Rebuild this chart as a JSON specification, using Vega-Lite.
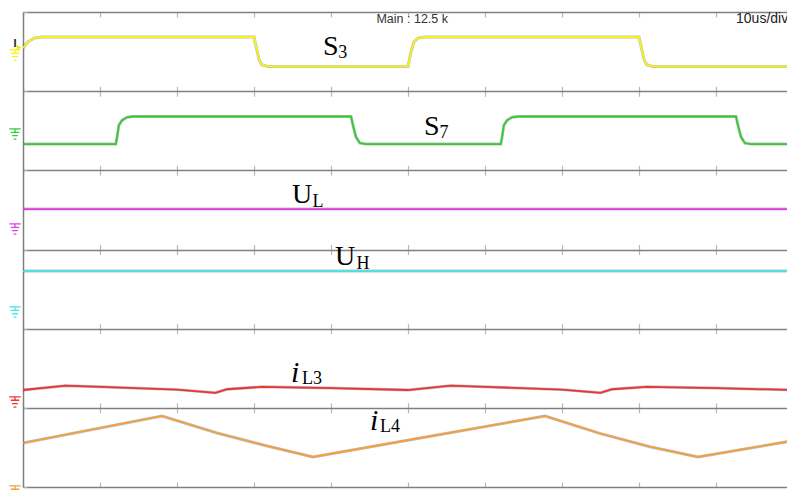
{
  "$schema": "https://vega.github.io/schema/vega-lite/v6.json",
  "width": 764,
  "height": 475,
  "autosize": {"type": "none"},
  "padding": {"left": 23, "top": 12, "right": 0, "bottom": 3},
  "background": "white",
  "config": {"view": {"stroke": null}},
  "datasets": {
    "signals": [
      {"ch": "S3", "t": 0, "v": 5.545}, {"ch": "S3", "t": 0.6, "v": 5.62}, {"ch": "S3", "t": 1.5, "v": 5.672}, {"ch": "S3", "t": 2.5, "v": 5.684},
      {"ch": "S3", "t": 30.0, "v": 5.684}, {"ch": "S3", "t": 30.35, "v": 5.53}, {"ch": "S3", "t": 30.65, "v": 5.4}, {"ch": "S3", "t": 31.0, "v": 5.335}, {"ch": "S3", "t": 31.8, "v": 5.312},
      {"ch": "S3", "t": 50.0, "v": 5.312}, {"ch": "S3", "t": 50.35, "v": 5.48}, {"ch": "S3", "t": 50.75, "v": 5.62}, {"ch": "S3", "t": 51.3, "v": 5.67}, {"ch": "S3", "t": 52.2, "v": 5.684},
      {"ch": "S3", "t": 80.0, "v": 5.684}, {"ch": "S3", "t": 80.35, "v": 5.53}, {"ch": "S3", "t": 80.65, "v": 5.4}, {"ch": "S3", "t": 81.0, "v": 5.335}, {"ch": "S3", "t": 81.8, "v": 5.312},
      {"ch": "S3", "t": 100, "v": 5.312},
      {"ch": "S7", "t": 0, "v": 4.332}, {"ch": "S7", "t": 12.05, "v": 4.332}, {"ch": "S7", "t": 12.2, "v": 4.41}, {"ch": "S7", "t": 12.45, "v": 4.57}, {"ch": "S7", "t": 12.85, "v": 4.63}, {"ch": "S7", "t": 13.5, "v": 4.67}, {"ch": "S7", "t": 14.3, "v": 4.68},
      {"ch": "S7", "t": 42.6, "v": 4.68}, {"ch": "S7", "t": 42.85, "v": 4.57}, {"ch": "S7", "t": 43.25, "v": 4.42}, {"ch": "S7", "t": 43.75, "v": 4.345}, {"ch": "S7", "t": 44.5, "v": 4.332},
      {"ch": "S7", "t": 62.05, "v": 4.332}, {"ch": "S7", "t": 62.2, "v": 4.41}, {"ch": "S7", "t": 62.45, "v": 4.57}, {"ch": "S7", "t": 62.85, "v": 4.63}, {"ch": "S7", "t": 63.5, "v": 4.67}, {"ch": "S7", "t": 64.3, "v": 4.68},
      {"ch": "S7", "t": 92.6, "v": 4.68}, {"ch": "S7", "t": 92.85, "v": 4.57}, {"ch": "S7", "t": 93.25, "v": 4.42}, {"ch": "S7", "t": 93.75, "v": 4.345}, {"ch": "S7", "t": 94.5, "v": 4.332}, {"ch": "S7", "t": 100, "v": 4.332},
      {"ch": "UL", "t": 0, "v": 3.511}, {"ch": "UL", "t": 100, "v": 3.511},
      {"ch": "UH", "t": 0, "v": 2.728}, {"ch": "UH", "t": 100, "v": 2.728},
      {"ch": "iL3", "t": 0, "v": 1.225}, {"ch": "iL3", "t": 5.5, "v": 1.28}, {"ch": "iL3", "t": 10, "v": 1.265}, {"ch": "iL3", "t": 20, "v": 1.23}, {"ch": "iL3", "t": 25, "v": 1.19}, {"ch": "iL3", "t": 26.5, "v": 1.235}, {"ch": "iL3", "t": 31, "v": 1.265}, {"ch": "iL3", "t": 40, "v": 1.25},
      {"ch": "iL3", "t": 50, "v": 1.225}, {"ch": "iL3", "t": 55.5, "v": 1.28}, {"ch": "iL3", "t": 60, "v": 1.265}, {"ch": "iL3", "t": 70, "v": 1.23}, {"ch": "iL3", "t": 75, "v": 1.19}, {"ch": "iL3", "t": 76.5, "v": 1.235}, {"ch": "iL3", "t": 81, "v": 1.265}, {"ch": "iL3", "t": 90, "v": 1.25}, {"ch": "iL3", "t": 100, "v": 1.225},
      {"ch": "iL4", "t": 0, "v": 0.556}, {"ch": "iL4", "t": 18.05, "v": 0.897}, {"ch": "iL4", "t": 25.2, "v": 0.682}, {"ch": "iL4", "t": 31.7, "v": 0.518}, {"ch": "iL4", "t": 37.66, "v": 0.379}, {"ch": "iL4", "t": 52.7, "v": 0.638},
      {"ch": "iL4", "t": 67.8, "v": 0.897}, {"ch": "iL4", "t": 74.9, "v": 0.678}, {"ch": "iL4", "t": 81.4, "v": 0.509}, {"ch": "iL4", "t": 87.66, "v": 0.379}, {"ch": "iL4", "t": 100, "v": 0.585}
    ],
    "grounds": [
      {"ch": "S3", "t": -1.04, "v": 5.457},
      {"ch": "S7", "t": -1.04, "v": 4.459},
      {"ch": "UL", "t": -1.04, "v": 3.259},
      {"ch": "UH", "t": -1.04, "v": 2.21},
      {"ch": "iL3", "t": -1.04, "v": 1.074},
      {"ch": "iL4", "t": -1.04, "v": -0.05}
    ],
    "mainLabels": [
      {"text": "S", "t": 38.96, "v": 5.457},
      {"text": "S", "t": 52.08, "v": 4.446},
      {"text": "U", "t": 34.94, "v": 3.587},
      {"text": "U", "t": 40.52, "v": 2.804}
    ],
    "italicLabels": [
      {"text": "i", "t": 34.8, "v": 1.326},
      {"text": "i", "t": 45.05, "v": 0.72}
    ],
    "subLabels": [
      {"text": "3", "t": 40.95, "v": 5.415},
      {"text": "7", "t": 54.08, "v": 4.404},
      {"text": "L", "t": 37.6, "v": 3.533},
      {"text": "H", "t": 43.3, "v": 2.75},
      {"text": "L3", "t": 36.23, "v": 1.297},
      {"text": "L4", "t": 46.36, "v": 0.691}
    ],
    "header": [
      {"text": "Main : 12.5 k", "t": 45.9, "v": 5.86}
    ],
    "header2": [
      {"text": "10us/div", "t": 92.6, "v": 5.86}
    ]
  },
  "layer": [
    {
      "data": {"name": "signals"},
      "mark": {"type": "line", "strokeWidth": 3, "color": "#000000", "opacity": 0.25, "clip": true},
      "encoding": {
        "x": {
          "field": "t", "type": "quantitative",
          "scale": {"domain": [0, 99.22], "nice": false, "zero": false},
          "axis": {
            "values": [0, 10, 20, 30, 40, 50, 60, 70, 80, 90],
            "labels": false, "title": null, "domain": false, "ticks": false,
            "grid": true, "gridColor": "#b8b8b8", "gridWidth": 1.2,
            "gridDash": [10, 69.167], "gridDashOffset": 5
          }
        },
        "y": {
          "field": "v", "type": "quantitative",
          "scale": {"domain": [0, 6], "nice": false, "zero": false},
          "axis": {
            "values": [0,0.125,0.25,0.375,0.5,0.625,0.75,0.875,1,1.125,1.25,1.375,1.5,1.625,1.75,1.875,2,2.125,2.25,2.375,2.5,2.625,2.75,2.875,3,3.125,3.25,3.375,3.5,3.625,3.75,3.875,4,4.125,4.25,4.375,4.5,4.625,4.75,4.875,5,5.125,5.25,5.375,5.5,5.625,5.75,5.875,6],
            "labels": false, "title": null,
            "domain": true, "domainColor": "#808080", "domainWidth": 1.5,
            "ticks": true, "tickSize": -4, "tickColor": "#b0b0b0",
            "grid": true, "gridColor": "#808080", "gridWidth": 1.3,
            "gridOpacity": {"condition": {"test": "datum.value % 1 === 0", "value": 1}, "value": 0}
          }
        },
        "detail": {"field": "ch"}
      }
    },
    {
      "data": {"name": "signals"},
      "mark": {"type": "line", "strokeWidth": 1.8, "clip": true},
      "encoding": {
        "x": {"field": "t", "type": "quantitative"},
        "y": {"field": "v", "type": "quantitative"},
        "color": {
          "field": "ch", "type": "nominal", "legend": null,
          "scale": {"domain": ["S3", "S7", "UL", "UH", "iL3", "iL4"], "range": ["#f5f510", "#33cc33", "#e040e0", "#44e4e4", "#ee3333", "#f4a040"]}
        }
      }
    },
    {
      "data": {"name": "grounds"},
      "mark": {"type": "point", "shape": "M-1,-0.9H1M0,-0.9V-0.3M-0.75,-0.3H0.75M-0.5,0.3H0.5M-0.25,0.9H0.25", "filled": false, "size": 130, "strokeWidth": 1.3, "opacity": 1},
      "encoding": {
        "x": {"field": "t", "type": "quantitative"},
        "y": {"field": "v", "type": "quantitative"},
        "color": {"field": "ch", "type": "nominal", "legend": null}
      }
    },
    {
      "data": {"values": [{"text": "I", "t": -1.04, "v": 5.596}]},
      "mark": {"type": "text", "font": "Liberation Sans", "fontSize": 11, "fontWeight": "bold", "color": "#222222", "align": "center", "baseline": "middle"},
      "encoding": {
        "x": {"field": "t", "type": "quantitative"},
        "y": {"field": "v", "type": "quantitative"},
        "text": {"field": "text"}
      }
    },
    {
      "data": {"values": [{"t": -0.52, "v": 5.551}]},
      "mark": {"type": "point", "shape": "triangle-right", "filled": true, "size": 30, "color": "#e8e820", "opacity": 1},
      "encoding": {
        "x": {"field": "t", "type": "quantitative"},
        "y": {"field": "v", "type": "quantitative"}
      }
    },
    {
      "data": {"name": "mainLabels"},
      "mark": {"type": "text", "font": "Liberation Serif", "fontSize": 28, "color": "#000000", "align": "left", "baseline": "alphabetic"},
      "encoding": {
        "x": {"field": "t", "type": "quantitative"},
        "y": {"field": "v", "type": "quantitative"},
        "text": {"field": "text"}
      }
    },
    {
      "data": {"name": "italicLabels"},
      "mark": {"type": "text", "font": "Liberation Serif", "fontSize": 30, "fontStyle": "italic", "color": "#000000", "align": "left", "baseline": "alphabetic"},
      "encoding": {
        "x": {"field": "t", "type": "quantitative"},
        "y": {"field": "v", "type": "quantitative"},
        "text": {"field": "text"}
      }
    },
    {
      "data": {"name": "subLabels"},
      "mark": {"type": "text", "font": "Liberation Serif", "fontSize": 18, "color": "#000000", "align": "left", "baseline": "alphabetic"},
      "encoding": {
        "x": {"field": "t", "type": "quantitative"},
        "y": {"field": "v", "type": "quantitative"},
        "text": {"field": "text"}
      }
    },
    {
      "data": {"name": "header"},
      "mark": {"type": "text", "font": "Liberation Sans", "fontSize": 12.5, "color": "#333333", "align": "left", "baseline": "alphabetic"},
      "encoding": {
        "x": {"field": "t", "type": "quantitative"},
        "y": {"field": "v", "type": "quantitative"},
        "text": {"field": "text"}
      }
    },
    {
      "data": {"name": "header2"},
      "mark": {"type": "text", "font": "Liberation Sans", "fontSize": 14, "color": "#222222", "align": "left", "baseline": "alphabetic"},
      "encoding": {
        "x": {"field": "t", "type": "quantitative"},
        "y": {"field": "v", "type": "quantitative"},
        "text": {"field": "text"}
      }
    }
  ]
}
